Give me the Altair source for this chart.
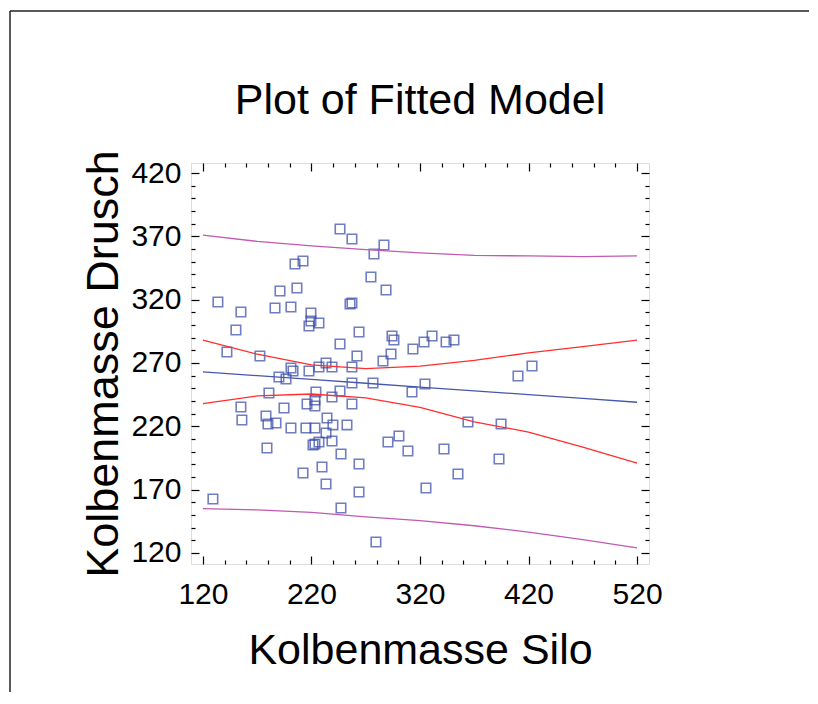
import altair as alt
import pandas as pd

x_obs = [246.3, 257.3, 277.6, 286.8, 274.8, 288.7, 204.8, 212.2, 191.0, 206.6,
         133.8, 155.0, 186.4, 201.1, 219.5, 219.5, 226.9, 217.7, 150.4, 246.3,
         142.1, 172.5, 233.4, 226.9, 238.9, 201.1, 203.0, 217.7, 190.0, 196.5,
         180.8, 224.1, 246.3, 238.9, 215.9, 223.2, 223.2, 155.0, 194.7, 155.9,
         178.1, 179.9, 187.3, 234.3, 239.8, 201.1, 214.9, 223.2, 233.4, 226.9,
         221.4, 223.2, 238.9, 179.0, 229.7, 212.2, 233.4, 129.2, 247.2, 255.5,
         257.3, 263.8, 294.2, 296.0, 261.9, 285.9, 293.3, 313.5, 323.7, 331.1,
         344.0, 351.3, 257.3, 257.3, 276.7, 312.6, 324.6, 257.3, 252.7, 364.2,
         247.2, 263.8, 290.5, 300.6, 308.9, 342.1, 355.0, 325.5, 263.8, 279.4,
         423.2, 410.3, 394.7, 392.8]
y_obs = [375.8, 367.9, 356.0, 363.2, 337.9, 327.6, 348.2, 350.5, 326.8, 329.2,
         318.2, 310.3, 313.4, 314.2, 309.5, 303.2, 301.6, 299.2, 296.0, 285.0,
         278.7, 275.5, 270.0, 266.8, 266.8, 266.0, 263.7, 263.7, 258.9, 257.4,
         246.3, 247.1, 247.9, 243.2, 237.6, 240.8, 236.0, 235.3, 234.5, 225.0,
         228.2, 221.8, 222.6, 226.6, 221.1, 218.7, 218.7, 218.7, 214.7, 207.6,
         205.3, 206.1, 208.4, 202.9, 187.9, 183.2, 174.5, 162.6, 155.5, 316.6,
         317.4, 294.5, 291.3, 288.2, 275.5, 271.6, 277.1, 281.0, 286.6, 291.3,
         286.6, 288.2, 266.8, 254.2, 254.2, 247.1, 253.4, 237.6, 221.1, 223.4,
         198.2, 190.3, 207.6, 212.4, 200.5, 202.1, 182.4, 171.3, 168.2, 128.7,
         267.6, 259.7, 221.8, 194.2]

# Fitted line, confidence and prediction limits, read at these x positions
line_x = [120, 170, 220, 270, 320, 370, 420, 470, 520]
fit_y = [263, 260, 257, 254, 251, 248, 245, 242, 239]
upper_conf = [288, 277, 268.5, 265.5, 267.5, 272, 278, 283, 288]
lower_conf = [238, 244, 245.5, 242.5, 235, 223.5, 215.5, 203.5, 191]
upper_pred = [371, 366, 362.5, 359.5, 357, 355, 354.5, 354, 354.5]
lower_pred = [155, 154, 152, 148.5, 145.5, 141.5, 136.5, 130.5, 124]

x_major = [120, 220, 320, 420, 520]
y_major = [120, 170, 220, 270, 320, 370, 420]

pts = pd.DataFrame({"silo": x_obs, "drusch": y_obs})
lines = pd.DataFrame({"silo": line_x, "fit": fit_y, "uc": upper_conf,
                      "lc": lower_conf, "up": upper_pred, "lp": lower_pred})
one = pd.DataFrame({"a": [0]})

FONT = "Liberation Sans"
xs = alt.Scale(domain=[109, 531], nice=False, zero=False)
ys = alt.Scale(domain=[111.3, 427.9], nice=False, zero=False)

x_minor = [v for v in range(120, 521, 20) if v not in x_major]
y_minor = [v for v in range(120, 421, 10) if v not in y_major]


def tick_axis(orient, values, size):
    return alt.Axis(orient=orient, values=values, labels=False, domain=False,
                    grid=False, ticks=True, tickSize=size, offset=-size,
                    tickColor="black", tickWidth=1.2, title=None)


xlab = alt.Axis(orient="bottom", values=x_major, ticks=False, tickSize=0,
                domain=False, grid=False, labelFlush=False, labelOverlap=False,
                labelFont=FONT, labelFontSize=30, labelColor="black",
                labelPadding=15, title="Kolbenmasse Silo", titleFont=FONT,
                titleFontSize=43, titleFontWeight="normal", titleColor="black",
                titlePadding=20)
ylab = alt.Axis(orient="left", values=y_major, ticks=False, tickSize=0,
                domain=False, grid=False, labelFlush=False, labelOverlap=False,
                labelFont=FONT, labelFontSize=30, labelColor="black",
                labelPadding=10, title="Kolbenmasse Drusch", titleFont=FONT,
                titleFontSize=45, titleFontWeight="normal", titleColor="black",
                titlePadding=4)

points = alt.Chart(pts).mark_point(
    shape="square", filled=False, size=90, strokeWidth=1.6, color="#3548A6"
).encode(
    x=alt.X("silo:Q", scale=xs, axis=xlab),
    y=alt.Y("drusch:Q", scale=ys, axis=ylab),
)


def line(col, color, xaxis, yaxis):
    return alt.Chart(lines).mark_line(color=color, strokeWidth=1.3).encode(
        x=alt.X("silo:Q", scale=xs, axis=xaxis),
        y=alt.Y(f"{col}:Q", scale=ys, axis=yaxis),
    )


BLUE = "#4657AC"
RED = "#FF2E2E"
MAG = "#C05AB2"

fit = line("fit", BLUE, tick_axis("bottom", x_major, 8), tick_axis("left", y_major, 8))
uc = line("uc", RED, tick_axis("bottom", x_minor, 4), tick_axis("left", y_minor, 4))
lc = line("lc", RED, tick_axis("top", x_major, 8), tick_axis("right", y_major, 8))
up = line("up", MAG, tick_axis("top", x_minor, 4), tick_axis("right", y_minor, 4))
lp = line("lp", MAG, None, None)

frame_left = alt.Chart(one).mark_rule(color="#222222", strokeWidth=1.5).encode(
    x=alt.value(-181), y=alt.value(-152), y2=alt.value(560))
frame_top = alt.Chart(one).mark_rule(color="#222222", strokeWidth=1.5).encode(
    x=alt.value(-181), x2=alt.value(700), y=alt.value(-152))

chart = alt.layer(
    frame_left, frame_top, points, fit, uc, lc, up, lp
).resolve_axis(
    x="independent", y="independent"
).properties(
    width=458, height=401,
    title=alt.TitleParams("Plot of Fitted Model", font=FONT, fontSize=43,
                          fontWeight="normal", color="black", anchor="middle",
                          baseline="alphabetic", offset=-147),
    autosize=alt.AutoSizeParams(type="none"),
    padding={"left": 183, "top": 155, "right": 160, "bottom": 128},
).configure_view(
    stroke="black", strokeWidth=1.5
).configure(background="white")

chart.save("out.html", embed_options={"renderer": "svg", "actions": False})
